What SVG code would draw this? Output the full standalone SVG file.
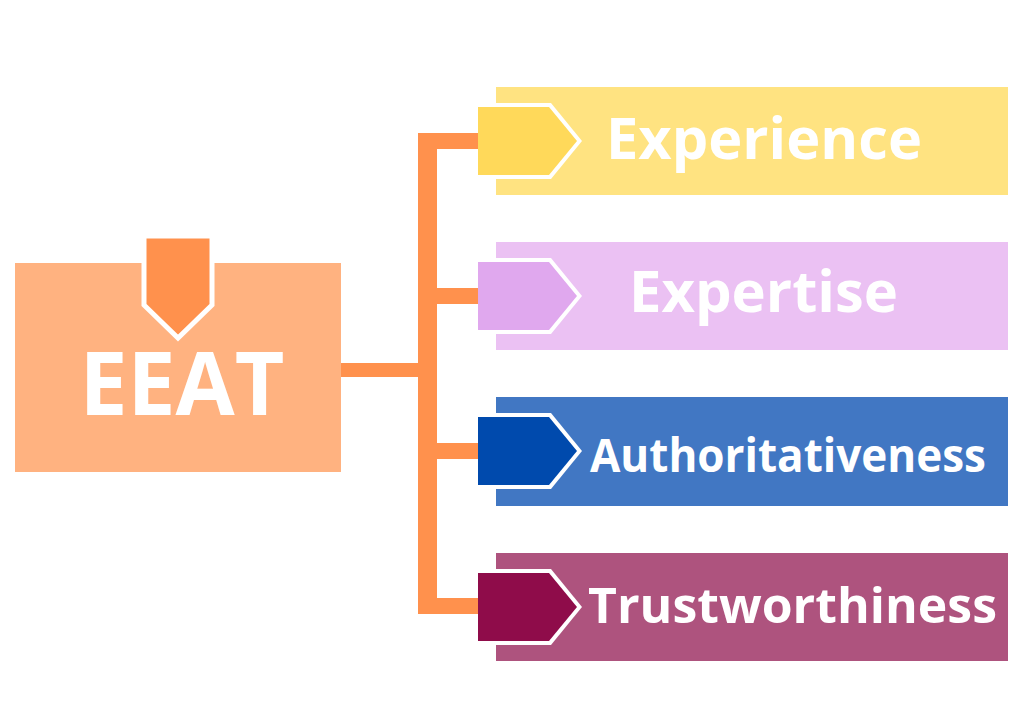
<svg xmlns="http://www.w3.org/2000/svg" width="1024" height="724" viewBox="0 0 1024 724">
<style>
.lbl{font-family:"Open Sans","Noto Sans","Liberation Sans",sans-serif;font-weight:700;fill:#ffffff}
.conn{fill:#FF914D}
.halo{fill:#ffffff}
</style>
<rect width="1024" height="724" fill="#ffffff"/>
<g id="connectors">
<rect class="conn" x="341" y="363" width="80" height="14"/>
<rect class="conn" x="418" y="133" width="19" height="481"/>
<rect class="conn" x="418" y="133" width="62" height="16"/>
<rect class="conn" x="418" y="288" width="62" height="16"/>
<rect class="conn" x="418" y="443" width="62" height="16"/>
<rect class="conn" x="418" y="598" width="62" height="16"/>
</g>
<g id="eeat">
<rect x="15" y="263" width="326" height="209" fill="#FFB280"/>
<polygon points="144,236 212,236 212,305 178,338 144,305" fill="#FF914D" stroke="#ffffff" stroke-width="5"/>
<text class="lbl" x="182" y="415" font-size="88" text-anchor="middle" textLength="205" lengthAdjust="spacingAndGlyphs">EEAT</text>
</g>
<g id="experience">
<rect x="496" y="87" width="512" height="108" fill="#FFE381"/>
<polygon class="halo" points="478,103 551,103 582,141 551,179 478,179"/>
<polygon points="478,107 549,107 577,141 549,175 478,175" fill="#FFD95A"/>
<text class="lbl" x="764" y="159" font-size="57" text-anchor="middle" textLength="316" lengthAdjust="spacingAndGlyphs">Experience</text>
</g>
<g id="expertise">
<rect x="496" y="242" width="512" height="108" fill="#EBC1F3"/>
<polygon class="halo" points="478,258 551,258 582,296 551,334 478,334"/>
<polygon points="478,262 549,262 577,296 549,330 478,330" fill="#E0A8EE"/>
<text class="lbl" x="763.5" y="312" font-size="57" text-anchor="middle" textLength="269" lengthAdjust="spacingAndGlyphs">Expertise</text>
</g>
<g id="authoritativeness">
<rect x="496" y="397" width="512" height="109" fill="#4177C3"/>
<polygon class="halo" points="478,413 551,413 582,451 551,489 478,489"/>
<polygon points="478,417 549,417 577,451 549,485 478,485" fill="#004AAD"/>
<text class="lbl" x="788" y="472" font-size="46" text-anchor="middle" textLength="396" lengthAdjust="spacingAndGlyphs">Authoritativeness</text>
</g>
<g id="trustworthiness">
<rect x="496" y="553" width="512" height="108" fill="#AE537E"/>
<polygon class="halo" points="478,569 551,569 582,607 551,645 478,645"/>
<polygon points="478,573 549,573 577,607 549,641 478,641" fill="#8F0C4A"/>
<text class="lbl" x="792.5" y="623" font-size="48" text-anchor="middle" textLength="409" lengthAdjust="spacingAndGlyphs">Trustworthiness</text>
</g>
</svg>
